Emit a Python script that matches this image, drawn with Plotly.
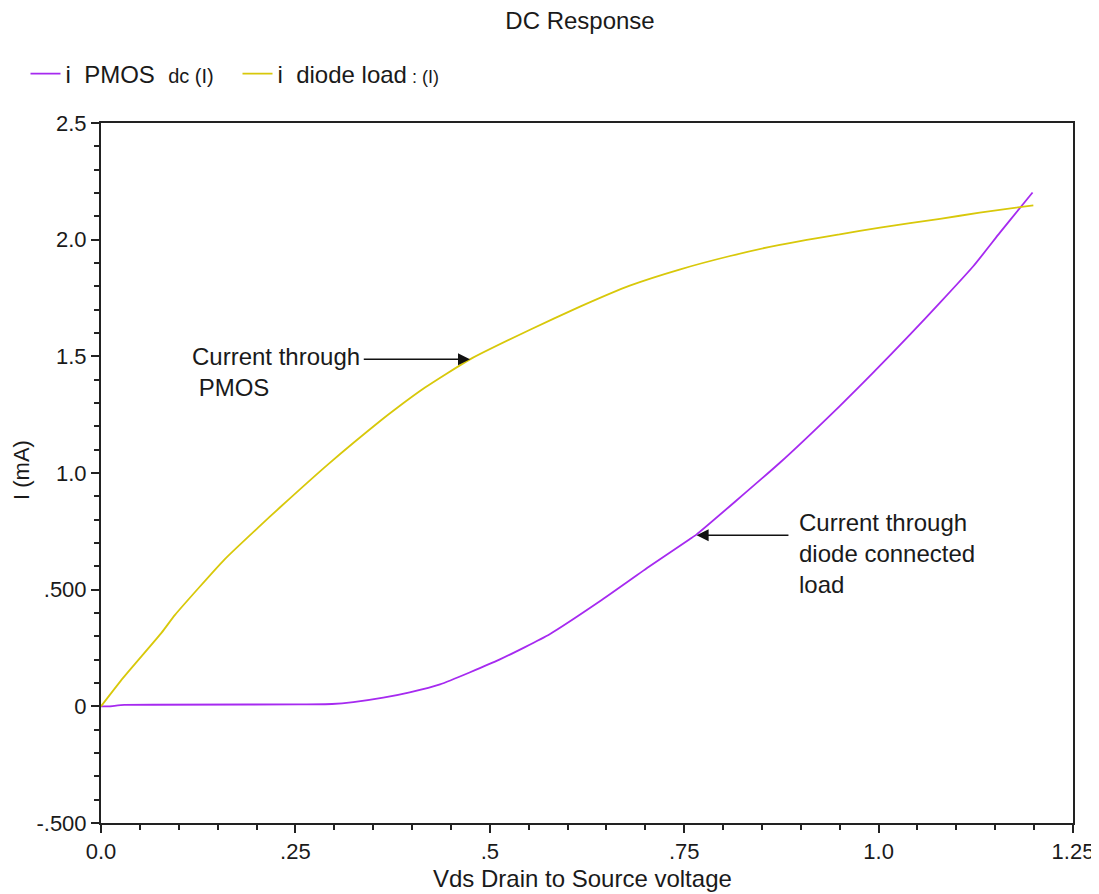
import plotly.graph_objects as go

# Sweep voltage (V) and currents (mA)
vds_diode = [0.0, 0.0287, 0.078, 0.0952, 0.159, 0.202, 0.230, 0.292, 0.361, 0.378, 0.4167,
             0.4745, 0.5517, 0.616, 0.680, 0.745, 0.809, 0.873, 0.950, 1.0018, 1.079, 1.130, 1.199]
i_diode = [0.0, 0.123, 0.316, 0.392, 0.630, 0.766, 0.852, 1.037, 1.228, 1.272, 1.366,
           1.487, 1.614, 1.713, 1.803, 1.873, 1.930, 1.978, 2.023, 2.052, 2.089, 2.116, 2.147]

vds_pmos = [0.0, 0.01, 0.03, 0.256, 0.297, 0.3245, 0.363, 0.397, 0.436, 0.513, 0.577, 0.642,
            0.706, 0.757, 0.766, 0.873, 0.950, 0.993, 1.040, 1.079, 1.122, 1.156, 1.182, 1.198]
i_pmos = [0.0, 0.0, 0.006, 0.008, 0.010, 0.018, 0.037, 0.060, 0.094, 0.201, 0.309, 0.451,
          0.601, 0.716, 0.737, 1.044, 1.287, 1.430, 1.592, 1.730, 1.887, 2.030, 2.137, 2.202]

x_tickvals = [0.0, 0.25, 0.5, 0.75, 1.0, 1.25]
x_ticktext = ["0.0", ".25", ".5", ".75", "1.0", "1.25"]
y_tickvals = [-0.5, 0.0, 0.5, 1.0, 1.5, 2.0, 2.5]
y_ticktext = ["-.500", "0", ".500", "1.0", "1.5", "2.0", "2.5"]

FONT = "Liberation Sans, Arial, sans-serif"
TXT = "#1a1a1a"
NB = "\u00a0"

# page has an 8px body margin -> figure slightly smaller than the window
W, H = 1091, 886
ML, MR, MT, MB = 93, 26, 115, 71
PW, PH = W - ML - MR, H - MT - MB

fig = go.Figure()
fig.add_trace(go.Scatter(
    x=vds_pmos, y=i_pmos, mode="lines",
    name="i" + NB * 2 + "PMOS" + NB * 2 + "<span style='font-size:20px'>dc (I)</span>",
    line=dict(color="#a62af0", width=1.8, shape="spline", smoothing=0.5),
))
fig.add_trace(go.Scatter(
    x=vds_diode, y=i_diode, mode="lines",
    name="i" + NB * 2 + "diode load<span style='font-size:18px'>" + NB + ": (I)</span>",
    line=dict(color="#d8c80a", width=1.8, shape="spline", smoothing=0.5),
))

axis_common = dict(
    showgrid=False, zeroline=False, showline=True, linecolor="#222", linewidth=2,
    mirror=True, ticks="outside", tickcolor="#222", tickwidth=2, ticklen=8,
    tickfont=dict(family=FONT, size=22, color=TXT), automargin=False,
)
fig.update_xaxes(range=[0, 1.25], tickmode="array", tickvals=x_tickvals, ticktext=x_ticktext,
                 minor=dict(tickmode="linear", tick0=0, dtick=0.05, ticks="outside",
                            ticklen=5, tickwidth=2, tickcolor="#222"),
                 **axis_common)
fig.update_yaxes(range=[-0.5, 2.5], tickmode="array", tickvals=y_tickvals, ticktext=y_ticktext,
                 minor=dict(tickmode="linear", tick0=0, dtick=0.1, ticks="outside",
                            ticklen=5, tickwidth=2, tickcolor="#222"),
                 **axis_common)

fig.update_layout(
    width=W, height=H, autosize=False,
    margin=dict(l=ML, r=MR, t=MT, b=MB, autoexpand=False),
    paper_bgcolor="white", plot_bgcolor="white",
    font=dict(family=FONT, size=22, color=TXT),
    title=dict(text="DC Response", x=572 / W, xanchor="center", y=1 - 13 / H, yanchor="middle",
               font=dict(family=FONT, size=24, color=TXT)),
    showlegend=True,
    legend=dict(orientation="h", x=-75.5 / PW, xanchor="left", y=1.102, yanchor="top",
                font=dict(family=FONT, size=24, color=TXT), bgcolor="rgba(0,0,0,0)",
                itemwidth=30, entrywidth=167, tracegroupgap=0),
)

# axis titles as annotations (reference positions)
fig.add_annotation(text="Vds Drain to Source voltage", xref="paper", yref="paper",
                   x=(574 - ML) / PW, y=-55 / PH, xanchor="center", yanchor="middle",
                   showarrow=False, font=dict(family=FONT, size=24, color=TXT))
fig.add_annotation(text="I (mA)", xref="paper", yref="paper",
                   x=(14 - ML) / PW, y=(H - MB - 462) / PH, xanchor="center", yanchor="middle",
                   textangle=-90, showarrow=False, font=dict(family=FONT, size=22, color=TXT))

# callouts
fig.add_annotation(text="Current through<br> PMOS", xref="x", yref="y",
                   x=0.115, y=1.49, xanchor="left", yanchor="top", align="left",
                   showarrow=False, font=dict(family=FONT, size=24, color=TXT), yshift=18)
fig.add_annotation(text="", x=0.4745, y=1.487, ax=0.336, ay=1.487, axref="x", ayref="y",
                   xref="x", yref="y", showarrow=True, arrowhead=2, arrowsize=1.6,
                   arrowwidth=1.5, arrowcolor="#111")
fig.add_annotation(text="Current through<br>diode connected<br>load", xref="x", yref="y",
                   x=0.895, y=0.733, xanchor="left", yanchor="top", align="left",
                   showarrow=False, font=dict(family=FONT, size=24, color=TXT), yshift=28)
fig.add_annotation(text="", x=0.766, y=0.733, ax=0.886, ay=0.733, axref="x", ayref="y",
                   xref="x", yref="y", showarrow=True, arrowhead=2, arrowsize=1.6,
                   arrowwidth=1.5, arrowcolor="#111")

fig.write_html("out.html")
